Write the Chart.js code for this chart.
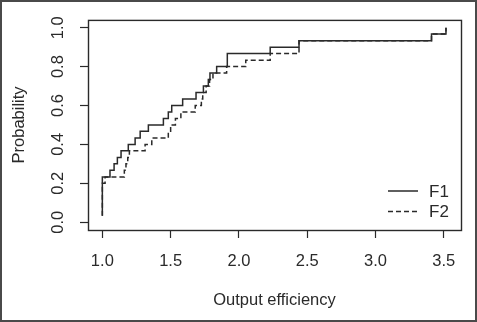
<!DOCTYPE html>
<html>
<head>
<meta charset="utf-8">
<script src="https://cdn.jsdelivr.net/npm/chart.js@4/dist/chart.umd.min.js"></script>
<style>
  html, body { margin: 0; padding: 0; background: #fff; }
  canvas { display: block; }
</style>
</head>
<body>
<canvas id="ecdfChart" width="477" height="322"></canvas>
<script>
// Empirical CDF jump points (x = output efficiency, y = cumulative probability)
const f1X = [1.0, 1.0, 1.056, 1.086, 1.11, 1.137, 1.19, 1.24, 1.277, 1.337, 1.447, 1.483, 1.508, 1.588, 1.686, 1.74, 1.776, 1.788, 1.837, 1.915, 1.915, 2.229, 2.44, 3.41, 3.516];
const f1Y = [0.033, 0.233, 0.267, 0.3, 0.333, 0.367, 0.4, 0.433, 0.467, 0.5, 0.533, 0.567, 0.6, 0.633, 0.667, 0.7, 0.733, 0.767, 0.8, 0.833, 0.867, 0.9, 0.933, 0.967, 1.0];

const f2X = [1.0, 1.0, 1.02, 1.161, 1.173, 1.186, 1.198, 1.313, 1.362, 1.483, 1.5, 1.535, 1.575, 1.68, 1.725, 1.735, 1.76, 1.785, 1.81, 1.91, 2.05, 2.229, 2.44, 3.41, 3.516];
const f2Y = [0.033, 0.2, 0.233, 0.267, 0.3, 0.333, 0.367, 0.4, 0.433, 0.467, 0.5, 0.533, 0.567, 0.6, 0.633, 0.667, 0.7, 0.733, 0.767, 0.8, 0.833, 0.867, 0.933, 0.967, 1.0];

const seriesNames = ['F1', 'F2'];
const xTicks = [1.0, 1.5, 2.0, 2.5, 3.0, 3.5];
const yTicks = [0.0, 0.2, 0.4, 0.6, 0.8, 1.0];

const ink = '#2a2a2a';
Chart.defaults.font.family = '"Liberation Sans", Arial, sans-serif';
Chart.defaults.color = ink;

function toPoints(xs, ys) {
    return xs.map((x, i) => ({x: x, y: ys[i]}));
}

// plot frame around the chart area plus the outer border
const framePlugin = {
    id: 'frame',
    afterDraw(chart) {
        const {ctx, chartArea: a} = chart;
        ctx.save();
        ctx.strokeStyle = ink;
        ctx.lineWidth = 1.4;
        ctx.strokeRect(a.left + 0.5, a.top + 0.5, a.right - a.left, a.bottom - a.top);
        ctx.strokeStyle = '#4a4a4a';
        ctx.lineWidth = 2;
        ctx.strokeRect(1, 1, chart.width - 2, chart.height - 2);
        ctx.restore();
    }
};

// R-style legend in the lower right of the plot
const lineLegend = {
    id: 'lineLegend',
    afterDraw(chart) {
        const {ctx} = chart;
        ctx.save();
        ctx.font = '17px "Liberation Sans", Arial, sans-serif';
        ctx.textBaseline = 'middle';
        chart.data.datasets.forEach((ds, i) => {
            const y = 191 + i * 20.5;
            ctx.strokeStyle = ds.borderColor;
            ctx.lineWidth = ds.borderWidth;
            ctx.setLineDash(ds.borderDash || []);
            ctx.beginPath();
            ctx.moveTo(388, y);
            ctx.lineTo(418, y);
            ctx.stroke();
            ctx.setLineDash([]);
            ctx.fillStyle = ink;
            ctx.fillText(ds.label, 429, y + 1);
        });
        ctx.restore();
    }
};

const ctx = document.getElementById('ecdfChart').getContext('2d');
const chart = new Chart(ctx, {
    type: 'line',
    data: {
        datasets: [{
            label: seriesNames[0],
            data: toPoints(f1X, f1Y),
            borderColor: ink,
            borderWidth: 1.5,
            stepped: true,
            pointRadius: 0,
            fill: false,
            order: 0
        }, {
            label: seriesNames[1],
            data: toPoints(f2X, f2Y),
            borderColor: ink,
            borderWidth: 1.5,
            borderDash: [5, 3],
            stepped: true,
            pointRadius: 0,
            fill: false,
            order: 1
        }]
    },
    options: {
        responsive: false,
        animation: false,
        layout: {
            padding: {left: 0, right: 16, top: 15, bottom: 0}
        },
        plugins: {
            legend: {display: false},
            tooltip: {enabled: false}
        },
        scales: {
            x: {
                type: 'linear',
                min: 0.895,
                max: 3.626,
                afterBuildTicks: s => { s.ticks = xTicks.map(v => ({value: v})); },
                afterFit: s => { s.height = 92; },
                ticks: {
                    callback: v => v.toFixed(1),
                    font: {size: 16.5},
                    color: ink,
                    padding: 14,
                    maxRotation: 0
                },
                grid: {
                    drawOnChartArea: false,
                    drawTicks: true,
                    tickLength: 8,
                    tickColor: ink,
                    tickWidth: 1.2
                },
                border: {display: false},
                title: {
                    display: true,
                    text: 'Output efficiency',
                    font: {size: 16.5},
                    color: ink,
                    padding: {top: 0, bottom: 12}
                }
            },
            y: {
                min: -0.04,
                max: 1.04,
                afterBuildTicks: s => { s.ticks = yTicks.map(v => ({value: v})); },
                afterFit: s => { s.width = 88; },
                ticks: {
                    callback: v => v.toFixed(1),
                    font: {size: 16.5},
                    color: ink,
                    padding: 10,
                    minRotation: 90,
                    maxRotation: 90,
                    crossAlign: 'center'
                },
                grid: {
                    drawOnChartArea: false,
                    drawTicks: true,
                    tickLength: 8,
                    tickColor: ink,
                    tickWidth: 1.2
                },
                border: {display: false},
                title: {
                    display: true,
                    text: 'Probability',
                    font: {size: 16.5},
                    color: ink,
                    padding: {top: 10, bottom: 0}
                }
            }
        }
    },
    plugins: [framePlugin, lineLegend]
});
</script>
</body>
</html>
